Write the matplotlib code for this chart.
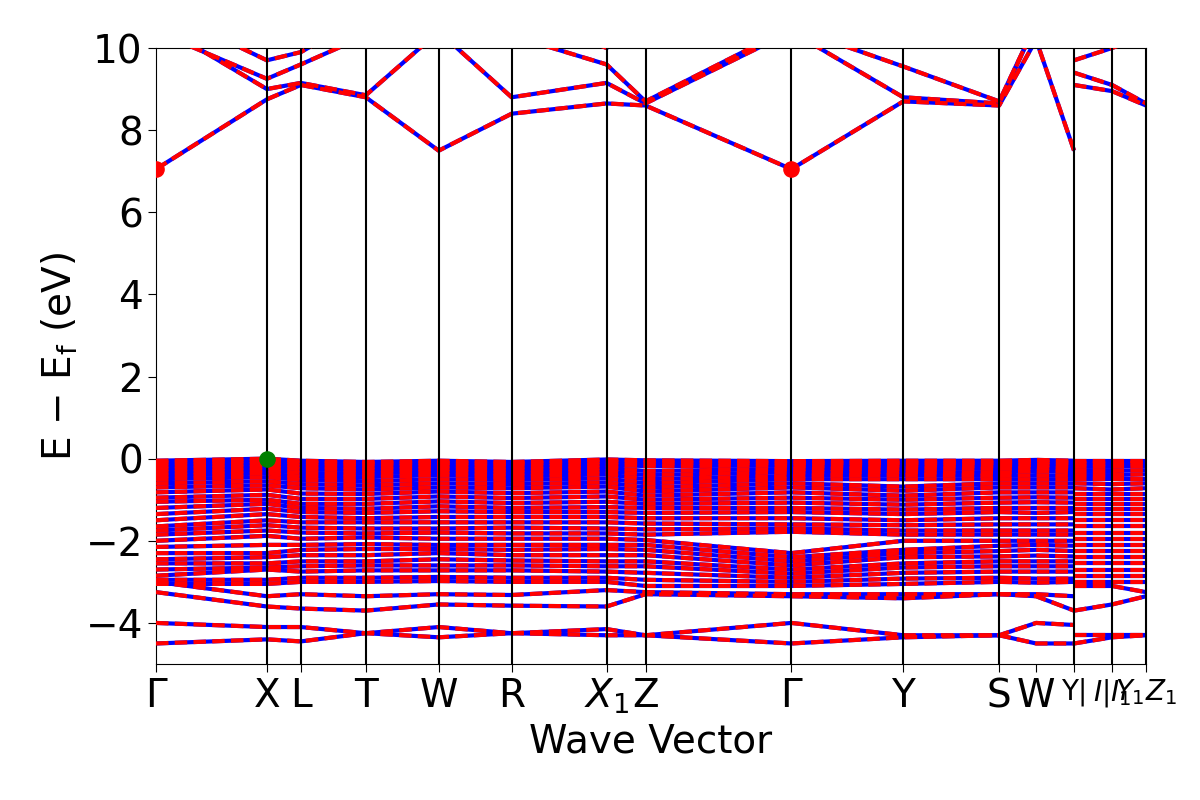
import matplotlib
matplotlib.use("Agg")
import matplotlib.pyplot as plt

# k-path distances of the high-symmetry points (arbitrary units)
K_MAIN = [0, 111, 145, 210, 283, 356, 451, 490, 636, 748, 844, 881, 919]
K_TAIL = [919, 957, 991]
TICK_POS = [0, 111, 145, 210, 283, 356, 451, 490, 636, 748, 844, 881, 919, 957, 991]
TICK_LAB = ["Γ", "X", "L", "T", "W", "R", "$X_1$", "Z", "Γ", "Y", "S", "W", "Y|", "$I|I_1$", "$Y_1Z_1$"]
VLINES = [111, 145, 210, 283, 356, 451, 490, 636, 748, 844, 919, 957, 991]

# conduction bands (eV), values at K_MAIN / K_TAIL
COND_MAIN = [
    [7.05, 8.75, 9.1, 8.8, 7.5, 8.4, 8.65, 8.6, 7.05, 8.7, 8.6, 10.2, 7.5],
    [10.6, 9.0, 9.15, 8.85, 10.4, 8.8, 9.15, 8.65, 10.4, 8.8, 8.65, 10.6, 10.6],
    [10.4, 9.25, 9.6, 10.3, 10.6, 10.3, 9.6, 8.7, 10.5, 9.55, 8.7, 10.6, 10.6],
    [11.0, 9.7, 9.9, 10.8, 11.0, 10.9, 10.0, 10.5, 11.0, 10.2, 10.8, 11.0, 11.0],
]
COND_TAIL = [
    [9.1, 8.95, 8.6],
    [9.4, 9.1, 8.65],
    [9.7, 10.0, 10.3],
]

# valence bands (eV), values at K_MAIN / K_TAIL
VAL_MAIN = [
    [-0.05, 0.0, -0.05, -0.08, -0.05, -0.08, -0.02, -0.04, -0.06, -0.05, -0.05, -0.03, -0.05],
    [-0.1, -0.05, -0.1, -0.12, -0.1, -0.12, -0.08, -0.1, -0.1, -0.1, -0.1, -0.08, -0.1],
    [-0.18, -0.12, -0.18, -0.2, -0.16, -0.2, -0.15, -0.18, -0.17, -0.16, -0.17, -0.15, -0.17],
    [-0.26, -0.2, -0.26, -0.28, -0.24, -0.28, -0.22, -0.3, -0.25, -0.24, -0.25, -0.22, -0.25],
    [-0.34, -0.28, -0.35, -0.36, -0.32, -0.36, -0.3, -0.4, -0.33, -0.32, -0.34, -0.3, -0.33],
    [-0.42, -0.36, -0.44, -0.45, -0.4, -0.44, -0.38, -0.5, -0.42, -0.4, -0.42, -0.4, -0.42],
    [-0.5, -0.45, -0.52, -0.55, -0.5, -0.52, -0.48, -0.6, -0.5, -0.5, -0.5, -0.5, -0.5],
    [-0.6, -0.55, -0.62, -0.65, -0.6, -0.62, -0.58, -0.7, -0.6, -0.68, -0.6, -0.6, -0.6],
    [-0.7, -0.65, -0.72, -0.75, -0.7, -0.72, -0.68, -0.8, -0.7, -0.78, -0.7, -0.7, -0.7],
    [-0.82, -0.75, -0.85, -0.86, -0.8, -0.84, -0.8, -0.9, -0.82, -0.9, -0.82, -0.82, -0.82],
    [-0.95, -0.88, -0.98, -0.98, -0.92, -0.96, -0.92, -1.0, -0.95, -1.0, -0.95, -0.94, -0.95],
    [-1.05, -1.0, -1.1, -1.1, -1.04, -1.08, -1.05, -1.1, -1.07, -1.12, -1.07, -1.06, -1.07],
    [-1.2, -1.1, -1.2, -1.22, -1.16, -1.2, -1.18, -1.2, -1.2, -1.24, -1.2, -1.2, -1.2],
    [-1.35, -1.22, -1.3, -1.32, -1.28, -1.3, -1.3, -1.32, -1.3, -1.35, -1.3, -1.32, -1.3],
    [-1.5, -1.35, -1.42, -1.45, -1.42, -1.42, -1.42, -1.45, -1.45, -1.5, -1.45, -1.45, -1.45],
    [-1.65, -1.5, -1.55, -1.55, -1.55, -1.55, -1.55, -1.58, -1.6, -1.62, -1.6, -1.6, -1.6],
    [-1.75, -1.62, -1.68, -1.7, -1.7, -1.68, -1.7, -1.72, -1.7, -1.75, -1.75, -1.75, -1.75],
    [-1.85, -1.75, -1.8, -1.82, -1.8, -1.82, -1.82, -1.85, -1.78, -1.85, -1.85, -1.85, -1.85],
    [-2.0, -1.88, -1.95, -1.92, -1.95, -1.95, -1.95, -1.98, -2.3, -2.0, -2.0, -2.0, -2.0],
    [-2.15, -2.1, -2.1, -2.08, -2.1, -2.1, -2.1, -2.1, -2.4, -2.22, -2.12, -2.1, -2.12],
    [-2.3, -2.3, -2.22, -2.2, -2.2, -2.22, -2.2, -2.22, -2.5, -2.3, -2.25, -2.22, -2.25],
    [-2.45, -2.4, -2.35, -2.35, -2.3, -2.35, -2.35, -2.35, -2.6, -2.4, -2.38, -2.36, -2.38],
    [-2.55, -2.55, -2.5, -2.5, -2.45, -2.48, -2.5, -2.5, -2.7, -2.55, -2.5, -2.5, -2.5],
    [-2.7, -2.65, -2.62, -2.6, -2.6, -2.6, -2.62, -2.62, -2.8, -2.65, -2.62, -2.62, -2.62],
    [-2.85, -2.7, -2.75, -2.72, -2.72, -2.72, -2.75, -2.78, -2.9, -2.78, -2.75, -2.75, -2.75],
    [-2.95, -2.95, -2.9, -2.9, -2.88, -2.9, -2.9, -2.95, -3.0, -2.92, -2.9, -2.92, -2.92],
    [-3.05, -3.05, -3.0, -3.0, -2.98, -3.0, -3.0, -3.1, -3.1, -3.05, -3.0, -3.02, -3.0],
    [-3.0, -3.35, -3.3, -3.35, -3.3, -3.32, -3.2, -3.25, -3.3, -3.3, -3.3, -3.3, -3.35],
    [-3.25, -3.6, -3.65, -3.7, -3.55, -3.58, -3.6, -3.3, -3.35, -3.4, -3.3, -3.35, -3.7],
    [-4.0, -4.1, -4.1, -4.25, -4.1, -4.25, -4.15, -4.3, -4.0, -4.3, -4.3, -4.0, -4.05],
    [-4.5, -4.4, -4.45, -4.25, -4.35, -4.25, -4.3, -4.3, -4.5, -4.35, -4.3, -4.5, -4.5],
]
VAL_TAIL = [
    [-0.05, -0.05, -0.05], [-0.12, -0.12, -0.1], [-0.2, -0.2, -0.18], [-0.3, -0.3, -0.28],
    [-0.4, -0.4, -0.38], [-0.5, -0.5, -0.5], [-0.6, -0.62, -0.6], [-0.72, -0.75, -0.72],
    [-0.85, -0.85, -0.85], [-0.98, -0.98, -0.98], [-1.1, -1.1, -1.1], [-1.22, -1.22, -1.22],
    [-1.35, -1.35, -1.35], [-1.5, -1.5, -1.5], [-1.65, -1.65, -1.65], [-1.8, -1.8, -1.8],
    [-1.95, -1.95, -1.95], [-2.1, -2.1, -2.1], [-2.25, -2.25, -2.25], [-2.4, -2.4, -2.4],
    [-2.55, -2.55, -2.55], [-2.7, -2.7, -2.7], [-2.85, -2.85, -2.85], [-3.0, -3.0, -3.0],
    [-3.1, -3.1, -3.25], [-3.7, -3.55, -3.35], [-4.3, -4.3, -4.3], [-4.5, -4.35, -4.3],
]

CBM = [(0, 7.05), (636, 7.05)]
VBM = [(111, 0.0)]

plt.rcParams["font.family"] = ["DejaVu Sans"]
fig, ax = plt.subplots(figsize=(12, 8), dpi=100)
fig.subplots_adjust(left=0.13, right=0.955, top=0.94, bottom=0.17)


def draw(ks, bands):
    for b in bands:
        ax.plot(ks, b, color="blue", lw=3, solid_capstyle="butt", zorder=2)
        ax.plot(ks, b, color="red", lw=3, ls=(0, (3, 1.5)), zorder=3)


draw(K_MAIN, COND_MAIN)
draw(K_TAIL, COND_TAIL)
draw(K_MAIN, VAL_MAIN)
draw(K_TAIL, VAL_TAIL)

for x in VLINES:
    ax.axvline(x, color="black", lw=1.5, zorder=4)

ax.scatter(*zip(*CBM), s=120, color="red", zorder=5)
ax.scatter(*zip(*VBM), s=120, color="green", zorder=5)

ax.set_xlim(0, 991)
ax.set_ylim(-5, 10)
ax.set_xticks(TICK_POS)
ax.set_xticklabels(TICK_LAB)
ax.tick_params(labelsize=28, length=6)
for lab in ax.get_xticklabels()[12:]:
    lab.set_fontsize(20)
ax.set_yticks([-4, -2, 0, 2, 4, 6, 8, 10])
ax.set_yticklabels(["−4", "−2", "0", "2", "4", "6", "8", "10"])
ax.set_xlabel("Wave Vector", fontsize=28)
ax.set_ylabel(r"E $-$ E$_\mathrm{f}$ (eV)", fontsize=28)

fig.savefig("out.png")
